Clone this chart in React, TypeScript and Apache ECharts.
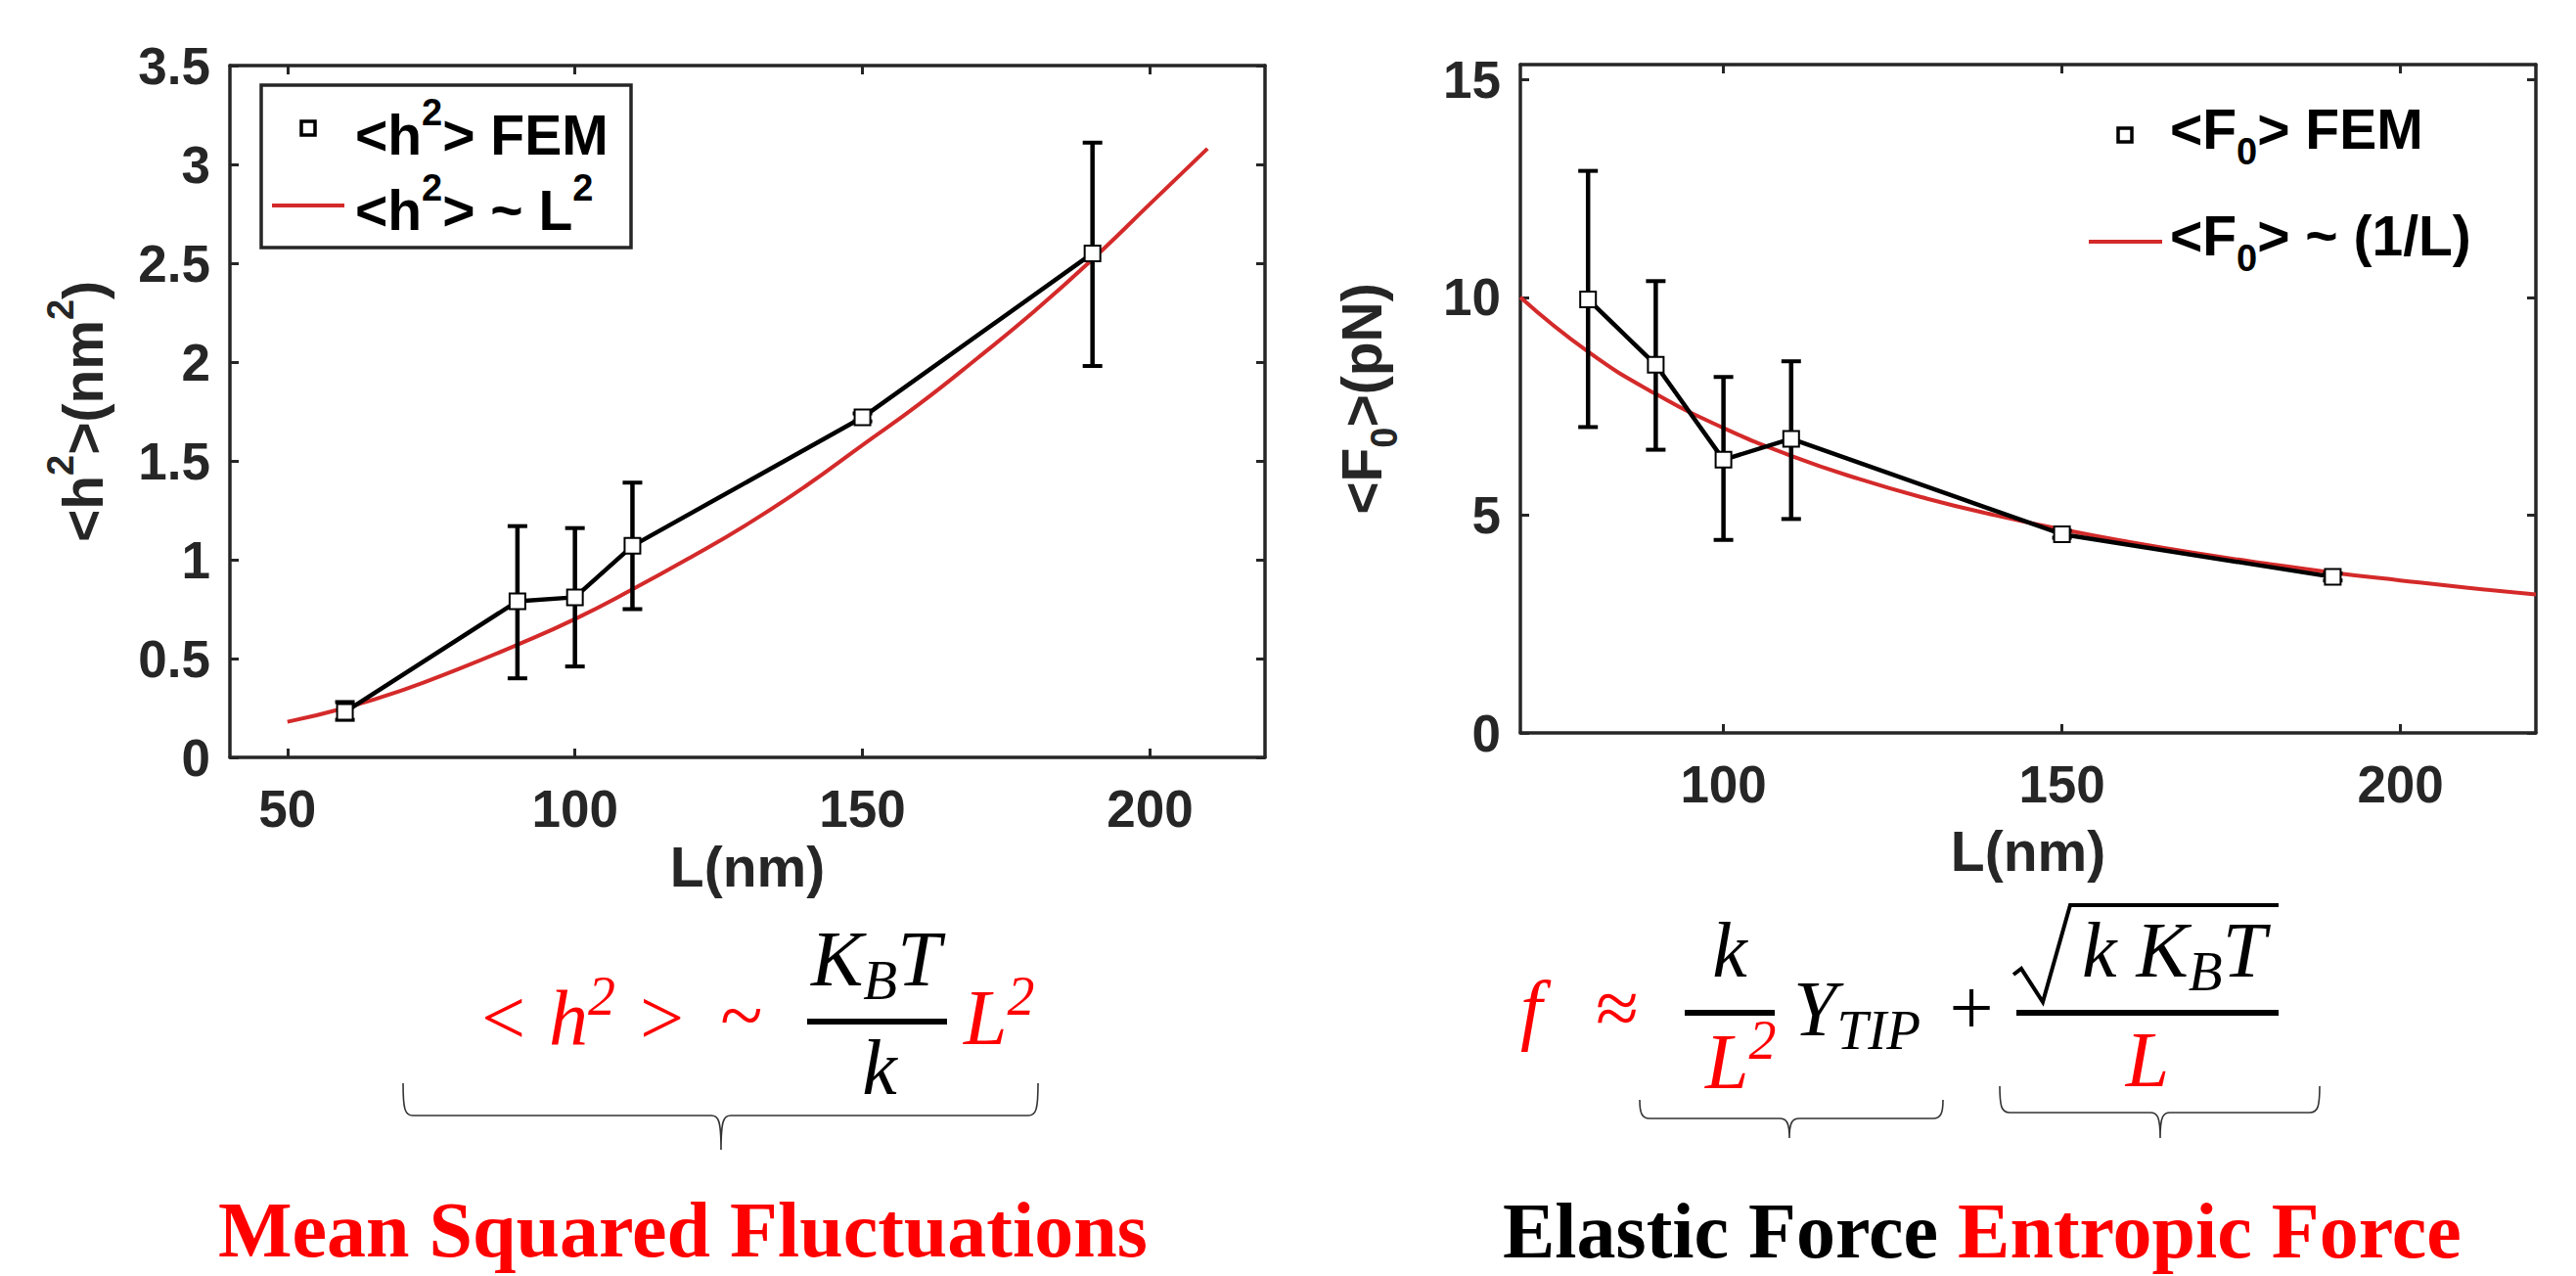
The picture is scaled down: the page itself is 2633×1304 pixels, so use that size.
import React, { useEffect, useRef } from 'react';
import * as echarts from 'echarts';

// ---------- data ----------
const L_FEM_LEFT = [60, 90, 100, 110, 150, 190];
const H2_FEM = [0.23, 0.79, 0.81, 1.07, 1.72, 2.55];
const H2_LOW = [0.19, 0.40, 0.46, 0.75, 1.70, 1.98];
const H2_HIGH = [0.28, 1.17, 1.16, 1.39, 1.74, 3.11];
const L_FIT_LEFT = [50, 60, 70, 80, 90, 100, 110, 120, 130, 140, 150, 160, 170, 180, 190, 200, 210];
const H2_FIT = [0.18, 0.25, 0.34, 0.45, 0.57, 0.70, 0.85, 1.01, 1.18, 1.37, 1.58, 1.79, 2.02, 2.26, 2.52, 2.80, 3.08];

const L_FEM_RIGHT = [80, 90, 100, 110, 150, 190];
const F0_FEM = [9.95, 8.45, 6.27, 6.75, 4.56, 3.58];
const F0_LOW = [7.02, 6.50, 4.43, 4.91, 4.48, 3.50];
const F0_HIGH = [12.90, 10.37, 8.17, 8.53, 4.64, 3.66];
const L_FIT_RIGHT = [70, 80, 90, 100, 110, 120, 130, 140, 150, 160, 170, 180, 190, 200, 210, 220];
const F0_FIT = [10.0, 8.75, 7.78, 7.0, 6.36, 5.83, 5.38, 5.0, 4.67, 4.38, 4.12, 3.89, 3.68, 3.5, 3.33, 3.18];

const LEFT_X_TICKS = [50, 100, 150, 200];
const LEFT_Y_TICKS = [0, 0.5, 1, 1.5, 2, 2.5, 3, 3.5];
const RIGHT_X_TICKS = [100, 150, 200];
const RIGHT_Y_TICKS = [0, 5, 10, 15];

// ---------- styles ----------
const SANS = "'Liberation Sans', Arial, Helvetica, sans-serif";
const SERIF = "'Liberation Serif', 'Times New Roman', serif";
const AXIS_COLOR = '#262626';
const FIT_RED = '#d42a2a';
const TXT_RED = '#ff0000';

function braceD(x0: number, x1: number, yTop: number, yMid: number, xTip: number, yTip: number) {
  const r = 10;
  return (
    `M ${x0} ${yTop} C ${x0} ${yMid - 6} ${x0 + 2} ${yMid} ${x0 + r} ${yMid} ` +
    `L ${xTip - r} ${yMid} C ${xTip - 3} ${yMid} ${xTip} ${yMid + 4} ${xTip} ${yTip} ` +
    `M ${xTip} ${yTip} C ${xTip} ${yMid + 4} ${xTip + 3} ${yMid} ${xTip + r} ${yMid} ` +
    `L ${x1 - r} ${yMid} C ${x1 - 2} ${yMid} ${x1} ${yMid - 6} ${x1} ${yTop}`
  );
}

echarts.graphic.registerShape('braceA', echarts.graphic.extendPath(braceD(412, 1061, 1107, 1140, 737, 1175), {}));
echarts.graphic.registerShape('braceB', echarts.graphic.extendPath(braceD(1676, 1986, 1124, 1143, 1829, 1163), {}));
echarts.graphic.registerShape('braceC', echarts.graphic.extendPath(braceD(2044, 2371, 1110, 1137, 2208, 1163), {}));

const sansRich = {
  m: { fontSize: 57, fontWeight: 'bold', fontFamily: SANS, lineHeight: 84 },
  s: { fontSize: 38, fontWeight: 'bold', fontFamily: SANS, lineHeight: 34, verticalAlign: 'top' },
  b: { fontSize: 38, fontWeight: 'bold', fontFamily: SANS, lineHeight: 20, verticalAlign: 'bottom' },
};

const mathRich = {
  m: { fontSize: 80, fontStyle: 'italic', fontFamily: SERIF, lineHeight: 100 },
  u: { fontSize: 80, fontFamily: SERIF, lineHeight: 100 },
  s: { fontSize: 56, fontStyle: 'italic', fontFamily: SERIF, lineHeight: 60, verticalAlign: 'top' },
  b: { fontSize: 57, fontStyle: 'italic', fontFamily: SERIF, lineHeight: 50, verticalAlign: 'bottom' },
};

function axis(gridIndex: number, position: string, min: number, max: number, ticks: number[], showLabels: boolean, extra: any = {}) {
  return {
    type: 'value',
    gridIndex,
    position,
    min,
    max,
    axisLine: { show: true, onZero: false, lineStyle: { color: AXIS_COLOR, width: 3.5 } },
    axisTick: { show: true, inside: true, length: 9, customValues: ticks, lineStyle: { color: AXIS_COLOR, width: 3 } },
    axisLabel: {
      show: showLabels,
      customValues: ticks,
      margin: position === 'left' || position === 'right' ? 20 : 26,
      fontSize: 53,
      fontWeight: 'bold',
      fontFamily: SANS,
      color: AXIS_COLOR,
    },
    splitLine: { show: false },
    ...extra,
  };
}

function mtext(x: number, y: number, text: string, fill: string, align = 'left', rich: any = mathRich, z = 10) {
  return {
    type: 'text',
    silent: true,
    z,
    style: {
      x,
      y,
      text,
      fill,
      align,
      textAlign: align,
      verticalAlign: 'middle',
      textVerticalAlign: 'middle',
      fontSize: 80,
      fontFamily: SERIF,
      fontStyle: 'italic',
      rich,
    },
  };
}

function errorBarSeries(xAxisIndex: number, yAxisIndex: number, xs: number[], lo: number[], hi: number[]) {
  return {
    type: 'custom',
    xAxisIndex,
    yAxisIndex,
    z: 3,
    encode: { x: 0, y: [1, 2] },
    data: xs.map((x, i) => [x, lo[i], hi[i]]),
    renderItem: (params: any, api: any) => {
      const x = api.value(0);
      const pLo = api.coord([x, api.value(1)]);
      const pHi = api.coord([x, api.value(2)]);
      const w = 10;
      const style = { stroke: '#000', lineWidth: 4.5, fill: null };
      const capStyle = { stroke: '#000', lineWidth: 4, fill: null };
      return {
        type: 'group',
        children: [
          { type: 'line', shape: { x1: pLo[0], y1: pLo[1], x2: pHi[0], y2: pHi[1] }, style },
          { type: 'line', shape: { x1: pLo[0] - w, y1: pLo[1], x2: pLo[0] + w, y2: pLo[1] }, style: capStyle },
          { type: 'line', shape: { x1: pHi[0] - w, y1: pHi[1], x2: pHi[0] + w, y2: pHi[1] }, style: capStyle },
        ],
      };
    },
  };
}

function buildOption() {
  const graphic: any[] = [
    // left legend
    { type: 'rect', z: 20, shape: { x: 267, y: 87, width: 378, height: 166 }, style: { fill: '#fff', stroke: AXIS_COLOR, lineWidth: 3.5 } },
    { type: 'rect', z: 21, shape: { x: 308, y: 124, width: 14, height: 14 }, style: { fill: '#fff', stroke: '#000', lineWidth: 3.5 } },
    { type: 'line', z: 21, shape: { x1: 278, y1: 210, x2: 352, y2: 210 }, style: { stroke: FIT_RED, lineWidth: 4 } },
    mtext(363, 138, '{m|<h}{s|2}{m|> FEM}', '#000', 'left', sansRich, 22),
    mtext(363, 215, '{m|<h}{s|2}{m|> ~ L}{s|2}', '#000', 'left', sansRich, 22),
    // right legend
    { type: 'rect', z: 21, shape: { x: 2165, y: 131, width: 14, height: 14 }, style: { fill: '#fff', stroke: '#000', lineWidth: 3.5 } },
    { type: 'line', z: 21, shape: { x1: 2135, y1: 247, x2: 2210, y2: 247 }, style: { stroke: FIT_RED, lineWidth: 4 } },
    mtext(2218, 132, '{m|<F}{b|0}{m|> FEM}', '#000', 'left', sansRich, 22),
    mtext(2218, 241, '{m|<F}{b|0}{m|> ~ (1/L)}', '#000', 'left', sansRich, 22),

    // left formula
    mtext(487, 1040, '{m|< h}{s|2}{m| >}', TXT_RED),
    mtext(758, 1038, '{u|~}', TXT_RED, 'center'),
    { type: 'rect', z: 10, shape: { x: 825, y: 1041, width: 143, height: 6 }, style: { fill: '#000' } },
    mtext(829, 980, '{m|K}{b|B}{m|T}', '#000'),
    mtext(899, 1091, '{m|k}', '#000', 'center'),
    mtext(985, 1040, '{m|L}{s|2}', TXT_RED),
    { type: 'braceA', z: 10, style: { fill: 'none', stroke: '#333', lineWidth: 1.6 } },

    // right formula
    mtext(1554, 1031, '{m|f}', TXT_RED),
    mtext(1653, 1030, '{u|≈}', TXT_RED, 'center'),
    { type: 'rect', z: 10, shape: { x: 1722, y: 1032, width: 92, height: 6 }, style: { fill: '#000' } },
    mtext(1768, 971, '{m|k}', '#000', 'center'),
    mtext(1743, 1085, '{m|L}{s|2}', TXT_RED),
    mtext(1833, 1031, '{m|Y}{b|TIP}', '#000'),
    mtext(2015, 1030, '{u|+}', '#000', 'center'),
    { type: 'rect', z: 10, shape: { x: 2061, y: 1032, width: 268, height: 6 }, style: { fill: '#000' } },
    { type: 'polyline', z: 10, shape: { points: [[2058, 996], [2066, 990], [2088, 1024], [2116, 925], [2329, 925]] }, style: { fill: 'none', stroke: '#000', lineWidth: 4 } },
    mtext(2128, 971, '{m|k K}{b|B}{m|T}', '#000'),
    mtext(2195, 1083, '{m|L}', TXT_RED, 'center'),
    { type: 'braceB', z: 10, style: { fill: 'none', stroke: '#333', lineWidth: 1.6 } },
    { type: 'braceC', z: 10, style: { fill: 'none', stroke: '#333', lineWidth: 1.6 } },

    // bottom captions
    {
      type: 'text', silent: true, z: 10,
      style: {
        x: 223, y: 1257, text: 'Mean Squared Fluctuations', fill: TXT_RED,
        align: 'left', textAlign: 'left', verticalAlign: 'middle', textVerticalAlign: 'middle',
        fontSize: 80, fontWeight: 'bold', fontFamily: SERIF,
      },
    },
    {
      type: 'text', silent: true, z: 10,
      style: {
        x: 1536, y: 1258, text: '{k|Elastic Force }{r|Entropic Force}', fill: '#000',
        align: 'left', textAlign: 'left', verticalAlign: 'middle', textVerticalAlign: 'middle',
        fontSize: 80, fontWeight: 'bold', fontFamily: SERIF,
        rich: {
          k: { fontSize: 80, fontWeight: 'bold', fontFamily: SERIF, fill: '#000' },
          r: { fontSize: 80, fontWeight: 'bold', fontFamily: SERIF, fill: TXT_RED },
        },
      },
    },
  ];

  const nameStyle = {
    color: AXIS_COLOR,
    fontSize: 57,
    fontWeight: 'bold',
    fontFamily: SANS,
    rich: sansRich,
  };

  return {
    animation: false,
    backgroundColor: '#fff',
    grid: [
      { left: 235, top: 67, width: 1058, height: 707 },
      { left: 1554, top: 66, width: 1038, height: 683 },
    ],
    xAxis: [
      axis(0, 'bottom', 40, 220, LEFT_X_TICKS, true, { name: 'L(nm)', nameLocation: 'middle', nameGap: 82, nameTextStyle: nameStyle }),
      axis(0, 'top', 40, 220, LEFT_X_TICKS, false),
      axis(1, 'bottom', 70, 220, RIGHT_X_TICKS, true, { name: 'L(nm)', nameLocation: 'middle', nameGap: 92, nameTextStyle: nameStyle }),
      axis(1, 'top', 70, 220, RIGHT_X_TICKS, false),
    ],
    yAxis: [
      axis(0, 'left', 0, 3.5, LEFT_Y_TICKS, true, { interval: 0.5, name: '{m|<h}{s|2}{m|>(nm}{s|2}{m|)}', nameLocation: 'middle', nameGap: 108, nameTextStyle: nameStyle }),
      axis(0, 'right', 0, 3.5, LEFT_Y_TICKS, false, { interval: 0.5 }),
      axis(1, 'left', 0, 15.34, RIGHT_Y_TICKS, true, { name: '{m|<F}{b|0}{m|>(pN)}', nameLocation: 'middle', nameGap: 120, nameTextStyle: nameStyle }),
      axis(1, 'right', 0, 15.34, RIGHT_Y_TICKS, false),
    ],
    series: [
      {
        type: 'line', xAxisIndex: 0, yAxisIndex: 0, z: 2, smooth: true, symbol: 'none',
        lineStyle: { color: FIT_RED, width: 4 },
        data: L_FIT_LEFT.map((x, i) => [x, H2_FIT[i]]),
      },
      errorBarSeries(0, 0, L_FEM_LEFT, H2_LOW, H2_HIGH),
      {
        type: 'line', xAxisIndex: 0, yAxisIndex: 0, z: 4, symbol: 'emptyRect', symbolSize: 16,
        lineStyle: { color: '#000', width: 4.5 },
        itemStyle: { color: '#000', borderWidth: 3.5 },
        data: L_FEM_LEFT.map((x, i) => [x, H2_FEM[i]]),
      },
      {
        type: 'line', xAxisIndex: 2, yAxisIndex: 2, z: 2, smooth: true, symbol: 'none',
        lineStyle: { color: FIT_RED, width: 4 },
        data: L_FIT_RIGHT.map((x, i) => [x, F0_FIT[i]]),
      },
      errorBarSeries(2, 2, L_FEM_RIGHT, F0_LOW, F0_HIGH),
      {
        type: 'line', xAxisIndex: 2, yAxisIndex: 2, z: 4, symbol: 'emptyRect', symbolSize: 16,
        lineStyle: { color: '#000', width: 4.5 },
        itemStyle: { color: '#000', borderWidth: 3.5 },
        data: L_FEM_RIGHT.map((x, i) => [x, F0_FEM[i]]),
      },
    ],
    graphic,
  };
}

export default function App() {
  const ref = useRef<HTMLDivElement>(null);
  useEffect(() => {
    const chart = echarts.init(ref.current as HTMLDivElement, null, { renderer: 'svg' });
    chart.setOption(buildOption() as any);
    return () => chart.dispose();
  }, []);
  return (
    <div
      ref={ref}
      style={{ position: 'fixed', left: 0, top: 0, width: 2633, height: 1304, background: '#fff' }}
    />
  );
}
